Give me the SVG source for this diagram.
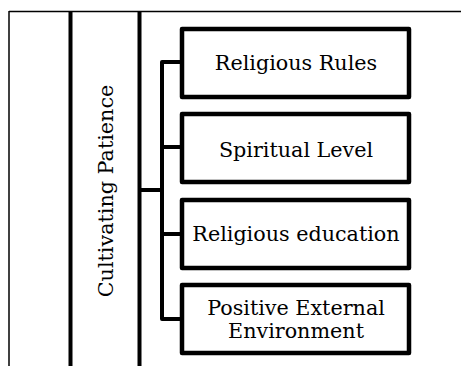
<svg xmlns="http://www.w3.org/2000/svg" width="461" height="366" viewBox="0 0 461 366">
<style>
.thin{stroke:#000;stroke-width:1.5;fill:none}
.thick{stroke:#000;stroke-width:4;fill:none}
.box{stroke:#000;stroke-width:4.5;fill:#fff;stroke-linejoin:round}
.conn{stroke:#000;stroke-width:4;fill:none;stroke-linejoin:round}
text{font-family:"DejaVu Serif","Liberation Serif",serif;font-size:20.7px;fill:#000;text-anchor:middle}
</style>
<rect width="461" height="366" fill="#fff"/>
<g id="frame">
<line class="thin" x1="9" y1="11.5" x2="461" y2="11.5"/>
<line class="thin" x1="9" y1="11" x2="9" y2="366"/>
</g>
<g id="root">
<line class="thick" x1="70.5" y1="11" x2="70.5" y2="366"/>
<line class="thick" x1="139.5" y1="11" x2="139.5" y2="366"/>
<text transform="translate(113,191) rotate(-90)">Cultivating Patience</text>
</g>
<g id="connectors">
<path class="conn" d="M139.5,190 H162 M182,62 H162 V319 H182 M162,147 H182 M162,234 H182"/>
</g>
<g id="n1">
<rect class="box" x="182" y="29" width="227" height="68"/>
<text x="296" y="70">Religious Rules</text>
</g>
<g id="n2">
<rect class="box" x="182" y="114" width="227" height="68"/>
<text x="296" y="157">Spiritual Level</text>
</g>
<g id="n3">
<rect class="box" x="182" y="200" width="227" height="68"/>
<text x="296" y="241">Religious education</text>
</g>
<g id="n4">
<rect class="box" x="182" y="285" width="227" height="68"/>
<text x="296" y="315">Positive External</text>
<text x="296" y="338">Environment</text>
</g>
</svg>
